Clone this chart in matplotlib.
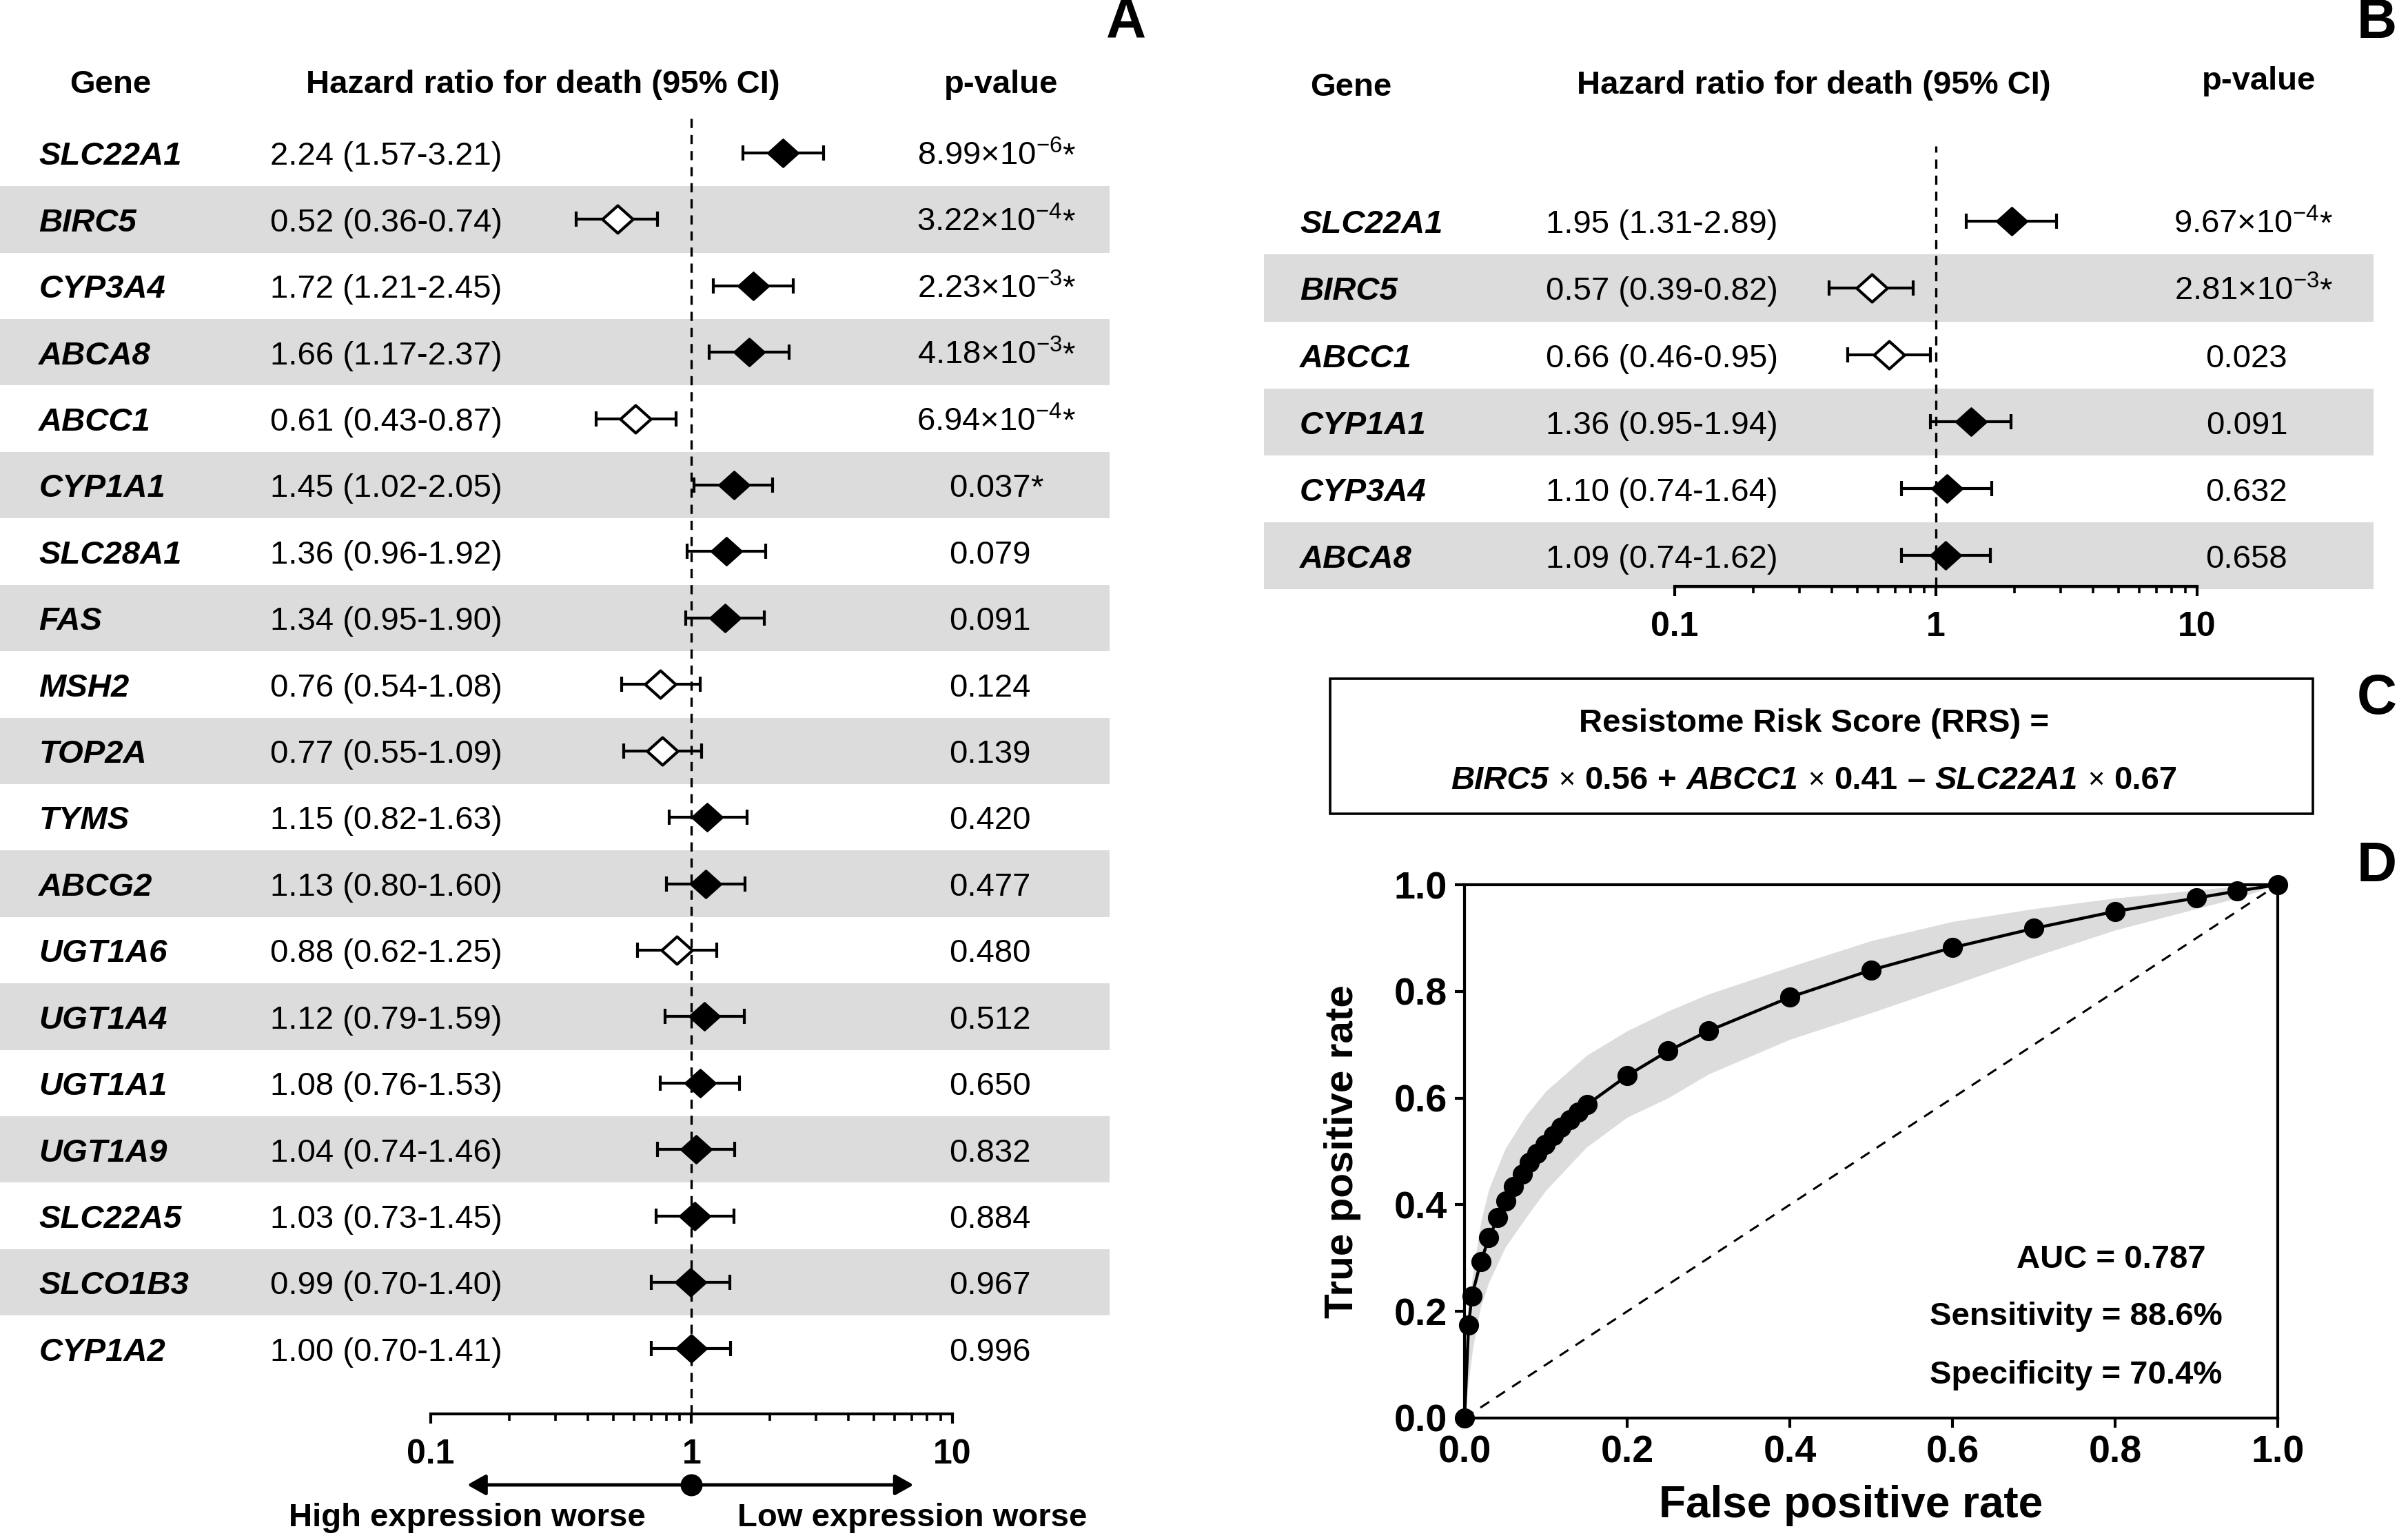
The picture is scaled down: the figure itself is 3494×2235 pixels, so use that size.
import numpy as np
import matplotlib
matplotlib.use("Agg")
import matplotlib.pyplot as plt
import matplotlib.transforms as mtransforms
from matplotlib.patches import Rectangle
from matplotlib.offsetbox import TextArea, HPacker, AnnotationBbox
from matplotlib.ticker import FixedLocator, LogLocator, NullFormatter

plt.rcParams['font.family'] = ['Liberation Sans', 'DejaVu Sans']
plt.rcParams['mathtext.fontset'] = 'custom'
plt.rcParams['mathtext.rm'] = 'Liberation Sans'
plt.rcParams['mathtext.default'] = 'regular'

# ---- panel A: univariate Cox, 19 genes ----
a_genes = ['SLC22A1', 'BIRC5', 'CYP3A4', 'ABCA8', 'ABCC1', 'CYP1A1', 'SLC28A1', 'FAS',
           'MSH2', 'TOP2A', 'TYMS', 'ABCG2', 'UGT1A6', 'UGT1A4', 'UGT1A1', 'UGT1A9',
           'SLC22A5', 'SLCO1B3', 'CYP1A2']
a_hr = [2.24, 0.52, 1.72, 1.66, 0.61, 1.45, 1.36, 1.34, 0.76, 0.77, 1.15, 1.13, 0.88,
        1.12, 1.08, 1.04, 1.03, 0.99, 1.00]
a_lo = [1.57, 0.36, 1.21, 1.17, 0.43, 1.02, 0.96, 0.95, 0.54, 0.55, 0.82, 0.80, 0.62,
        0.79, 0.76, 0.74, 0.73, 0.70, 0.70]
a_hi = [3.21, 0.74, 2.45, 2.37, 0.87, 2.05, 1.92, 1.90, 1.08, 1.09, 1.63, 1.60, 1.25,
        1.59, 1.53, 1.46, 1.45, 1.40, 1.41]
a_p = [8.99e-6, 3.22e-4, 2.23e-3, 4.18e-3, 6.94e-4, 0.037, 0.079, 0.091, 0.124, 0.139,
       0.420, 0.477, 0.480, 0.512, 0.650, 0.832, 0.884, 0.967, 0.996]
a_star = [True] * 6 + [False] * 13

# ---- panel B: multivariate Cox, 6 genes ----
b_genes = ['SLC22A1', 'BIRC5', 'ABCC1', 'CYP1A1', 'CYP3A4', 'ABCA8']
b_hr = [1.95, 0.57, 0.66, 1.36, 1.10, 1.09]
b_lo = [1.31, 0.39, 0.46, 0.95, 0.74, 0.74]
b_hi = [2.89, 0.82, 0.95, 1.94, 1.64, 1.62]
b_p = [9.67e-4, 2.81e-3, 0.023, 0.091, 0.632, 0.658]
b_star = [True, True, False, False, False, False]

# ---- panel D: ROC of the RRS ----
roc_fpr = [0.0, 0.005, 0.009, 0.02, 0.03, 0.041, 0.051, 0.06, 0.071, 0.08, 0.089, 0.099,
           0.109, 0.119, 0.13, 0.14, 0.151, 0.2, 0.25, 0.3, 0.4, 0.5, 0.6, 0.7, 0.8,
           0.9, 0.95, 1.0]
roc_tpr = [0.0, 0.175, 0.229, 0.293, 0.338, 0.376, 0.407, 0.434, 0.457, 0.479, 0.496,
           0.513, 0.530, 0.545, 0.560, 0.574, 0.588, 0.642, 0.688, 0.726, 0.789, 0.840,
           0.882, 0.918, 0.950, 0.975, 0.988, 1.0]
band_fpr = [0.0, 0.005, 0.01, 0.02, 0.03, 0.05, 0.075, 0.1, 0.15, 0.2, 0.25, 0.3, 0.4,
            0.5, 0.6, 0.7, 0.8, 0.9, 0.95, 1.0]
band_hi = [0.0, 0.20, 0.27, 0.368, 0.43, 0.505, 0.566, 0.613, 0.68, 0.726, 0.763, 0.795,
           0.846, 0.895, 0.931, 0.955, 0.975, 0.99, 0.997, 1.0]
band_lo = [0.0, 0.07, 0.13, 0.21, 0.255, 0.32, 0.375, 0.427, 0.508, 0.564, 0.60, 0.645,
           0.71, 0.76, 0.812, 0.865, 0.915, 0.955, 0.975, 1.0]
roc_notes = ['AUC = 0.787', 'Sensitivity = 88.6%', 'Specificity = 70.4%']

FS = 17
BAND = '#dcdcdc'
DIAMOND = [(-1, 0), (0, 0.9), (1, 0), (0, -0.9), (-1, 0)]

fig = plt.figure(figsize=(17.47, 11.175), dpi=200)


def fmt_p(p):
    if p < 0.01:
        m, e = f'{p:.2e}'.split('e')
        return f'{m}\u00d7$10^{{{int(e)}}}$'
    return f'{p:.3f}'


def forest(ax, genes, hr, lo, hi, pvals, stars, x_gene, x_hr, x_p, band_x, ylim):
    n = len(genes)
    y = np.arange(n)
    hr = np.asarray(hr)
    lo = np.asarray(lo)
    hi = np.asarray(hi)
    tr = mtransforms.blended_transform_factory(fig.transFigure, ax.transData)

    # grey stripes on every second row
    for i in range(1, n, 2):
        ax.add_patch(Rectangle((band_x[0], i - 0.5), band_x[1] - band_x[0], 1.0,
                               transform=tr, facecolor=BAND, edgecolor='none',
                               zorder=0, clip_on=False))

    ax.axvline(1, color='k', lw=1.2, ls=(0, (4, 3)), zorder=2)
    ax.errorbar(hr, y, xerr=[hr - lo, hi - hr], fmt='none', ecolor='k',
                elinewidth=1.5, capsize=3.8, capthick=1.5, zorder=3)
    filled = hr >= 0.95
    ax.plot(hr[filled], y[filled], ls='none', marker=DIAMOND, ms=16,
            mfc='k', mec='k', zorder=4)
    ax.plot(hr[~filled], y[~filled], ls='none', marker=DIAMOND, ms=16,
            mfc='w', mec='k', mew=1.5, zorder=4)

    for i in range(n):
        yb = i + 0.18
        ax.text(x_gene, yb, genes[i], transform=tr, ha='left', va='baseline',
                fontsize=FS, fontweight='bold', fontstyle='italic')
        ax.text(x_hr, yb, f'{hr[i]:.2f} ({lo[i]:.2f}-{hi[i]:.2f})', transform=tr,
                ha='left', va='baseline', fontsize=FS)
        t = ax.text(x_p, yb, fmt_p(pvals[i]), transform=tr, ha='center',
                    va='baseline', fontsize=FS)
        if stars[i]:
            ax.annotate('*', xy=(1, 0), xycoords=t, ha='left', va='bottom',
                        fontsize=FS)

    ax.set_xscale('log')
    ax.set_xlim(0.1, 10)
    ax.set_ylim(*ylim)
    ax.set_yticks([])
    for s in ['left', 'right', 'top']:
        ax.spines[s].set_visible(False)
    ax.spines['bottom'].set_linewidth(1.5)
    ax.xaxis.set_major_locator(FixedLocator([0.1, 1, 10]))
    ax.set_xticklabels(['0.1', '1', '10'], fontsize=18, fontweight='bold')
    ax.xaxis.set_minor_locator(LogLocator(base=10, subs=np.arange(2, 10)))
    ax.xaxis.set_minor_formatter(NullFormatter())
    ax.tick_params(axis='x', which='major', direction='out', length=5, width=1.5, pad=8)
    ax.tick_params(axis='x', which='minor', direction='out', length=3.5, width=1.3)
    ax.patch.set_visible(False)


# panel A
axa = fig.add_axes([0.1789, 0.0819, 0.2166, 0.8438])
forest(axa, a_genes, a_hr, a_lo, a_hi, a_p, a_star, 0.0161, 0.1123, 0.411,
       (0.0, 0.4608), (18.98, -0.58))

# direction arrow below panel A
trA = mtransforms.blended_transform_factory(axa.transData, fig.transFigure)
axa.annotate('', xy=(0.138, 0.0358), xytext=(7.1, 0.0358), xycoords=trA,
             arrowprops=dict(arrowstyle='<|-|>,head_length=0.8,head_width=0.45',
                             mutation_scale=10, lw=1.8, color='k', shrinkA=0, shrinkB=0),
             annotation_clip=False)
axa.plot([1], [0.0358], 'o', ms=10.5, color='k', transform=trA, clip_on=False)
axa.text(0.138, 0.0143, 'High expression worse', transform=trA, ha='center', va='center',
         fontsize=FS, fontweight='bold')
axa.text(7.0, 0.0143, 'Low expression worse', transform=trA, ha='center', va='center',
         fontsize=FS, fontweight='bold')

# panel B
axb = fig.add_axes([0.6955, 0.6192, 0.2169, 0.2859])
forest(axb, b_genes, b_hr, b_lo, b_hi, b_p, b_star, 0.5398, 0.642, 0.933,
       (0.525, 0.9857), (5.46, -1.12))

# column headers
for x, y, s in [(0.0459, 0.945, 'Gene'), (0.2255, 0.945, 'Hazard ratio for death (95% CI)'),
                (0.4158, 0.945, 'p-value'), (0.561, 0.943, 'Gene'),
                (0.7533, 0.9445, 'Hazard ratio for death (95% CI)'), (0.938, 0.947, 'p-value')]:
    fig.text(x, y, s, ha='center', va='center', fontsize=FS, fontweight='bold')

# panel C: score formula in a box
fig.add_artist(Rectangle((0.5524, 0.4716), 0.4081, 0.0877, transform=fig.transFigure,
                         fill=False, lw=1.3, edgecolor='k'))
fig.text(0.7533, 0.530, 'Resistome Risk Score (RRS) =', ha='center', va='center',
         fontsize=FS, fontweight='bold')
bi = dict(fontsize=FS, fontweight='bold', fontstyle='italic')
bd = dict(fontsize=FS, fontweight='bold')
rg = dict(fontsize=FS - 2)
parts = [('BIRC5', bi), ('\u00d7', rg), ('0.56', bd), ('+', bd), ('ABCC1', bi), ('\u00d7', rg),
         ('0.41', bd), ('\u2013', bd), ('SLC22A1', bi), ('\u00d7', rg), ('0.67', bd)]
pack = HPacker(children=[TextArea(s, textprops=p) for s, p in parts], sep=5, pad=0,
               align='baseline')
fig.add_artist(AnnotationBbox(pack, (0.7533, 0.493), xycoords='figure fraction',
                              frameon=False, box_alignment=(0.5, 0.5)))

# panel D: ROC
axd = fig.add_axes([0.6082, 0.0792, 0.3377, 0.3463])
axd.fill_between(band_fpr, band_lo, band_hi, color=BAND, lw=0, zorder=1)
axd.plot([0, 1], [0, 1], ls=(0, (5, 4)), color='k', lw=1.1, zorder=2)
axd.plot(roc_fpr, roc_tpr, '-o', color='k', lw=1.6, ms=9.5, zorder=3, clip_on=False)
axd.set_xlim(0, 1)
axd.set_ylim(0, 1)
ticks = np.round(np.arange(0, 1.01, 0.2), 1)
axd.set_xticks(ticks)
axd.set_yticks(ticks)
axd.set_xticklabels([f'{v:.1f}' for v in ticks], fontsize=20, fontweight='bold')
axd.set_yticklabels([f'{v:.1f}' for v in ticks], fontsize=20, fontweight='bold')
axd.tick_params(direction='out', length=5, width=1.5, pad=4)
for s in axd.spines.values():
    s.set_linewidth(1.5)
axd.set_xlabel('False positive rate', fontsize=23, fontweight='bold')
axd.set_ylabel('True positive rate', fontsize=21, fontweight='bold')
axd.xaxis.set_label_coords(0.475, -0.125)
axd.yaxis.set_label_coords(-0.127, 0.5)
for (x, y), s in zip([(0.795, 0.297), (0.752, 0.19), (0.752, 0.08)], roc_notes):
    axd.text(x, y, s, ha='center', va='center', fontsize=FS, fontweight='bold')

# panel letters
for x, y, s in [(0.4677, 0.9856, 'A'), (0.987, 0.985, 'B'), (0.987, 0.546, 'C'),
                (0.987, 0.437, 'D')]:
    fig.text(x, y, s, ha='center', va='center', fontsize=29, fontweight='bold')

fig.savefig('out.png', dpi=200)
